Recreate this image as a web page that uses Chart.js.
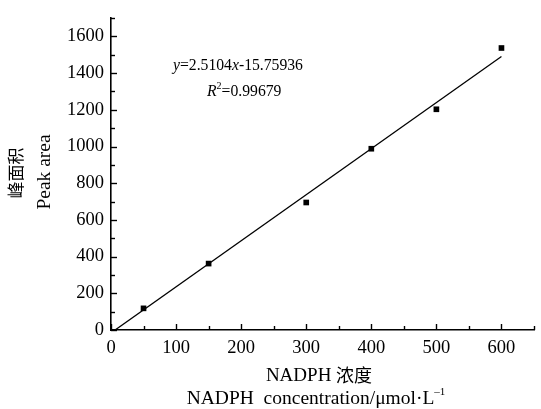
<!DOCTYPE html>
<html>
<head>
<meta charset="utf-8">
<style>
  html, body { margin: 0; padding: 0; background: #fff; }
  #wrap { width: 541px; height: 409px; position: relative; }
</style>
<script src="https://cdn.jsdelivr.net/npm/chart.js@4.4.0/dist/chart.umd.min.js"></script>
</head>
<body>
<div id="wrap"><canvas id="myChart" width="541" height="409"></canvas></div>
<script>
// measured points (NADPH concentration, peak area)
const concentration = [50, 150, 300, 400, 500, 600];
const peakArea = [118, 362, 695, 988, 1203, 1537];

// fitted line y = 2.5104x - 15.75936
const slope = 2.5104;
const intercept = -15.75936;
const fitX = [intercept / -slope, 600];

const xTicks = [0, 100, 200, 300, 400, 500, 600];
const yTicks = [0, 200, 400, 600, 800, 1000, 1200, 1400, 1600];

const serif = "'Liberation Serif', 'DejaVu Serif', serif";
const cjk = "'Noto Sans CJK SC', sans-serif";

// ticks pointing into the plot, with minor ticks in between, plus texts
const tickMarks = {
  id: "tickMarks",
  afterDraw(chart) {
    const ctx = chart.ctx;
    const x = chart.scales.x;
    const y = chart.scales.y;
    const area = chart.chartArea;
    ctx.save();
    ctx.strokeStyle = "#000";
    ctx.lineWidth = 1.4;
    for (let v = 0; v <= 650; v += 50) {
      const px = Math.round(x.getPixelForValue(v)) + 0.5;
      const len = v % 100 === 0 ? 6 : 4;
      ctx.beginPath();
      ctx.moveTo(px, area.bottom);
      ctx.lineTo(px, area.bottom - len);
      ctx.stroke();
    }
    for (let v = 0; v <= 1700; v += 100) {
      const py = Math.round(y.getPixelForValue(v)) + 0.5;
      const len = v % 200 === 0 ? 6 : 4;
      ctx.beginPath();
      ctx.moveTo(area.left, py);
      ctx.lineTo(area.left + len, py);
      ctx.stroke();
    }

    // equation text
    ctx.fillStyle = "#000";
    ctx.textBaseline = "middle";
    ctx.textAlign = "left";
    let tx = 173;
    const parts = [["y", true], ["=2.5104", false], ["x", true], ["-15.75936", false]];
    parts.forEach(([t, it]) => {
      ctx.font = (it ? "italic " : "") + "15.7px " + serif;
      ctx.fillText(t, tx, 66);
      tx += ctx.measureText(t).width;
    });
    tx = 207;
    ctx.font = "italic 15.7px " + serif;
    ctx.fillText("R", tx, 92);
    tx += ctx.measureText("R").width;
    ctx.font = "10px " + serif;
    ctx.fillText("2", tx, 86);
    tx += ctx.measureText("2").width;
    ctx.font = "15.7px " + serif;
    ctx.fillText("=0.99679", tx, 92);

    // axis titles
    ctx.font = "19px " + serif;
    const w1 = ctx.measureText("NADPH ").width;
    ctx.font = "18px " + cjk;
    const w2 = ctx.measureText("浓度").width;
    let sx = 319 - (w1 + w2) / 2;
    ctx.font = "19px " + serif;
    ctx.fillText("NADPH ", sx, 376);
    ctx.font = "18px " + cjk;
    ctx.fillText("浓度", sx + w1, 375);

    ctx.font = "19.5px " + serif;
    const l1 = "NADPH  concentration/\u03bcmol\u00b7L";
    const lw = ctx.measureText(l1).width;
    ctx.font = "11px " + serif;
    const sw = ctx.measureText("\u20131").width;
    sx = 316 - (lw + sw) / 2;
    ctx.font = "19.5px " + serif;
    ctx.fillText(l1, sx, 399);
    ctx.font = "11px " + serif;
    ctx.fillText("\u20131", sx + lw, 392);

    ctx.textAlign = "center";
    ctx.save();
    ctx.translate(16, 173);
    ctx.rotate(-Math.PI / 2);
    ctx.font = "17px " + cjk;
    ctx.fillText("峰面积", 0, 0);
    ctx.restore();
    ctx.save();
    ctx.translate(45, 172);
    ctx.rotate(-Math.PI / 2);
    ctx.font = "19.5px " + serif;
    ctx.fillText("Peak area", 0, 0);
    ctx.restore();
    ctx.restore();
  }
};

const ctx = document.getElementById("myChart").getContext("2d");
const myChart = new Chart(ctx, {
  type: "scatter",
  data: {
    datasets: [
      {
        data: concentration.map((c, i) => ({ x: c, y: peakArea[i] })),
        pointStyle: "rect",
        pointRadius: 4,
        backgroundColor: "#000",
        borderColor: "#000",
        borderWidth: 0,
        showLine: false
      },
      {
        data: fitX.map(v => ({ x: v, y: slope * v + intercept })),
        showLine: true,
        pointRadius: 0,
        borderColor: "#000",
        borderWidth: 1.3,
        fill: false
      }
    ]
  },
  options: {
    responsive: false,
    animation: false,
    events: [],
    layout: { padding: { top: 16, right: 7, left: 0, bottom: 0 } },
    plugins: {
      legend: { display: false },
      tooltip: { enabled: false }
    },
    scales: {
      x: {
        type: "linear",
        min: 0,
        max: 650,
        afterFit: s => { s.height = 79; },
        afterBuildTicks: s => { s.ticks = xTicks.map(v => ({ value: v })); },
        grid: { display: false, drawTicks: false },
        border: { display: true, color: "#000", width: 1.6 },
        ticks: {
          color: "#000",
          padding: 7,
          maxRotation: 0,
          callback: v => String(v),
          font: { family: serif, size: 18.5 }
        }
      },
      y: {
        type: "linear",
        min: 0,
        max: 1700,
        afterFit: s => { s.width = 111; },
        afterBuildTicks: s => { s.ticks = yTicks.map(v => ({ value: v })); },
        grid: { display: false, drawTicks: false },
        border: { display: true, color: "#000", width: 1.6 },
        ticks: {
          color: "#000",
          padding: 7,
          callback: v => String(v),
          font: { family: serif, size: 18.5 }
        }
      }
    }
  },
  plugins: [tickMarks]
});
</script>
</body>
</html>
